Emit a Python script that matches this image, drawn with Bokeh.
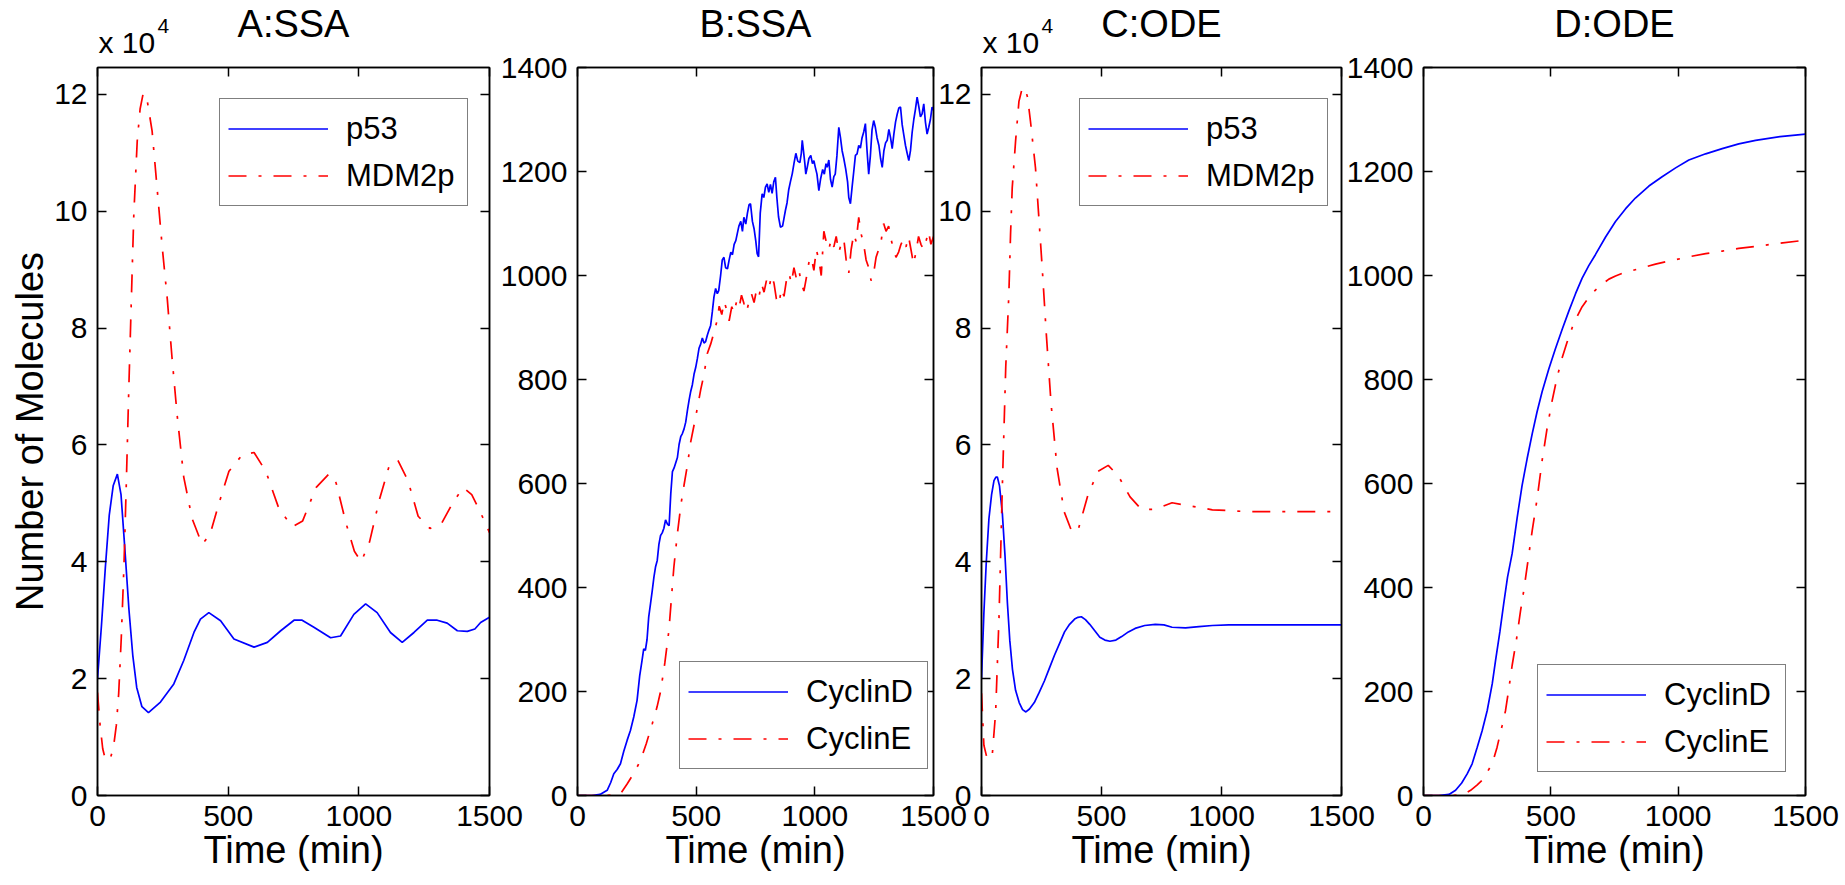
from bokeh.plotting import figure
from bokeh.layouts import row, column
from bokeh.models import (Range1d, LinearAxis, FixedTicker, Legend, LegendItem,
                          Label, CustomJSTickFormatter)
from bokeh.embed import file_html
from bokeh.resources import INLINE

FONT = "Liberation Sans"
BLUE = "#0000ff"
RED = "#ff0000"
DASHDOT = "18 12 3 12"
LW = 1.7

# ---------------- text ----------------
titles = ["A:SSA", "B:SSA", "C:ODE", "D:ODE"]
x_label = "Time (min)"
y_label = "Number of Molecules"
scale_base = "x 10"
scale_exp = "4"
names_p53 = ["p53", "MDM2p"]
names_cyc = ["CyclinD", "CyclinE"]

# ---------------- ticks ----------------
x_ticks = [0, 500, 1000, 1500]
y_ticks_p53 = [0, 2, 4, 6, 8, 10, 12]          # x 10^4 molecules
y_ticks_cyc = [0, 200, 400, 600, 800, 1000, 1200, 1400]
x_max = 1500
y_max_p53 = 12.46
y_max_cyc = 1400

# ---------------- A: SSA p53 / MDM2p (x 10^4) ----------------
a_t_p53 = [0, 15, 30, 45, 60, 76, 90, 105, 120, 135, 150, 170, 195, 241, 292, 330, 369, 394,
           426, 471, 522, 599, 650, 701, 752, 783, 828, 892, 930, 981, 1026, 1070, 1121, 1166,
           1211, 1262, 1300, 1338, 1377, 1415, 1444, 1466, 1500]
a_p53 = [2.0, 2.9, 3.9, 4.8, 5.3, 5.5, 5.15, 4.2, 3.2, 2.4, 1.85, 1.52, 1.42, 1.6, 1.91, 2.31,
         2.79, 3.02, 3.13, 2.99, 2.68, 2.54, 2.62, 2.82, 3.0, 3.0, 2.88, 2.70, 2.73, 3.1, 3.28,
         3.13, 2.79, 2.62, 2.79, 3.0, 3.0, 2.95, 2.82, 2.81, 2.85, 2.96, 3.05]
a_t_mdm = [0, 10, 20, 30, 40, 50, 61, 72, 81, 91, 101, 110, 120, 133, 139, 152, 163, 175, 190,
           209, 228, 248, 267, 285, 305, 330, 362, 400, 430, 464, 503, 554, 599, 644, 695, 746,
           785, 836, 887, 913, 951, 983, 1009, 1041, 1079, 1118, 1150, 1188, 1227, 1272, 1317,
           1362, 1400, 1432, 1464, 1500]
a_mdm = [1.76, 1.2, 0.8, 0.62, 0.6, 0.65, 0.82, 1.2, 1.74, 2.7, 3.9, 5.3, 7.0, 9.03, 9.95, 11.2,
         11.75, 12.02, 11.9, 11.37, 10.4, 9.37, 8.5, 7.5, 6.5, 5.45, 4.74, 4.3, 4.46, 4.99, 5.55,
         5.83, 5.87, 5.55, 4.9, 4.6, 4.70, 5.27, 5.51, 5.35, 4.66, 4.18, 4.0, 4.34, 5.07, 5.67,
         5.73, 5.39, 4.78, 4.57, 4.66, 5.03, 5.27, 5.15, 4.86, 4.50]

# ---------------- B: SSA CyclinD / CyclinE ----------------
b_t_d = [0, 60, 95, 125, 140, 153, 167, 181, 195, 209, 223, 237, 251, 262, 272, 279, 286, 293,
         300, 308, 315, 322, 329, 336, 343, 350, 357, 364, 371, 379, 386, 393, 400, 407, 414,
         421, 428, 435, 442, 449, 456, 463, 470, 477, 484, 491, 498, 505, 512, 519, 526, 533,
         540, 547, 554, 561, 568, 575, 582, 589, 595, 603, 610, 617, 624, 632, 639, 646, 653,
         660, 667, 673, 680, 688, 695, 701, 709, 716, 723, 729, 737, 744, 751, 757, 763, 770,
         778, 785, 792, 799, 806, 813, 820, 827, 834, 840, 847, 855, 864, 870, 876, 883, 890,
         897, 905, 912, 920, 928, 937, 943, 947, 952, 958, 962, 968, 975, 983, 990, 996, 1002,
         1009, 1017, 1024, 1033, 1040, 1047, 1052, 1059, 1066, 1073, 1080, 1086, 1093, 1101,
         1108, 1115, 1122, 1130, 1138, 1143, 1150, 1157, 1164, 1171, 1178, 1185, 1192, 1199,
         1206, 1213, 1220, 1227, 1234, 1241, 1248, 1255, 1262, 1270, 1277, 1284, 1291, 1298,
         1305, 1312, 1319, 1326, 1333, 1340, 1347, 1354, 1361, 1368, 1375, 1382, 1389, 1396,
         1403, 1410, 1417, 1424, 1431, 1438, 1445, 1452, 1459, 1466, 1473, 1480, 1487, 1494,
         1500]
b_cycd = [0, 0, 2, 10, 25, 42, 50, 61, 85, 106, 125, 151, 183, 230, 260, 282, 279, 300, 343,
          370, 394, 420, 440, 452, 483, 500, 505, 514, 530, 522, 519, 580, 623, 630, 640, 650,
          675, 690, 696, 705, 718, 740, 760, 777, 790, 810, 823, 840, 860, 868, 880, 870, 873,
          885, 895, 904, 930, 959, 975, 965, 971, 1000, 1030, 1035, 1015, 1013, 1030, 1045,
          1040, 1060, 1067, 1080, 1095, 1104, 1085, 1112, 1099, 1120, 1136, 1138, 1104, 1090,
          1067, 1042, 1036, 1120, 1157, 1150, 1170, 1176, 1160, 1175, 1158, 1180, 1189, 1150,
          1113, 1093, 1095, 1110, 1125, 1140, 1165, 1180, 1196, 1215, 1235, 1220, 1217, 1235,
          1260, 1240, 1215, 1195, 1208, 1225, 1231, 1215, 1221, 1208, 1195, 1163, 1185, 1204,
          1195, 1215, 1208, 1222, 1185, 1170, 1190, 1195, 1230, 1285, 1265, 1240, 1225, 1205,
          1180, 1150, 1138, 1170, 1200, 1231, 1234, 1250, 1245, 1265, 1276, 1292, 1240, 1195,
          1230, 1280, 1298, 1285, 1265, 1250, 1225, 1208, 1240, 1255, 1260, 1281, 1265, 1244,
          1272, 1295, 1310, 1322, 1324, 1290, 1270, 1250, 1235, 1221, 1240, 1275, 1300, 1320,
          1343, 1325, 1305, 1311, 1330, 1295, 1272, 1285, 1300, 1324, 1318]
b_t_e = [0, 100, 150, 181, 209, 240, 265, 290, 315, 335, 350, 368, 385, 406, 420, 436, 450,
         463, 477, 491, 505, 519, 533, 547, 561, 575, 589, 597, 608, 618, 628, 639, 650, 660,
         670, 681, 691, 702, 712, 723, 733, 744, 754, 765, 775, 786, 796, 807, 817, 828, 838,
         849, 859, 870, 880, 891, 901, 912, 922, 933, 943, 954, 964, 975, 985, 996, 1006, 1017,
         1027, 1038, 1048, 1059, 1069, 1080, 1090, 1101, 1111, 1122, 1132, 1143, 1153, 1164,
         1174, 1185, 1195, 1206, 1216, 1227, 1237, 1248, 1258, 1269, 1279, 1290, 1300, 1311,
         1321, 1332, 1342, 1353, 1363, 1374, 1384, 1395, 1405, 1416, 1426, 1437, 1447, 1458,
         1468, 1479, 1489, 1500]
b_cyce = [0, 0, 1, 3, 22, 45, 67, 100, 138, 170, 200, 255, 317, 439, 500, 560, 600, 635, 680,
          712, 745, 780, 810, 850, 868, 890, 915, 941, 925, 950, 935, 913, 940, 928, 950, 938,
          962, 945, 930, 950, 965, 948, 972, 960, 985, 968, 990, 975, 1000, 985, 955, 945, 975,
          960, 990, 1005, 985, 1015, 995, 1010, 985, 970, 995, 1025, 1035, 1010, 1050, 1030,
          1000, 1085, 1065, 1050, 1070, 1055, 1075, 1045, 1060, 1070, 1030, 1005, 1050, 1080,
          1065, 1112, 1080, 1060, 1030, 1015, 990, 1005, 1035, 1050, 1065, 1100, 1085, 1095,
          1070, 1050, 1035, 1045, 1060, 1070, 1055, 1075, 1050, 1022, 1045, 1075, 1060, 1050,
          1065, 1085, 1060, 1075]

# ---------------- C: ODE p53 / MDM2p (x 10^4) ----------------
c_t_p53 = [0, 10, 20, 31, 42, 52, 60, 66, 75, 87, 98, 108, 118, 129, 142, 157, 171, 185, 200,
           220, 240, 262, 283, 304, 325, 346, 367, 388, 402, 416, 433, 451, 472, 493, 514, 535,
           560, 584, 612, 640, 680, 724, 760, 794, 850, 906, 962, 1030, 1102, 1200, 1300, 1400,
           1500]
c_p53 = [2.0, 3.13, 4.0, 4.74, 5.15, 5.39, 5.45, 5.45, 5.3, 4.82, 4.1, 3.29, 2.65, 2.16, 1.8,
         1.59, 1.47, 1.43, 1.48, 1.59, 1.76, 1.96, 2.18, 2.4, 2.6, 2.80, 2.93, 3.02, 3.05, 3.06,
         3.01, 2.93, 2.82, 2.71, 2.66, 2.64, 2.66, 2.72, 2.80, 2.86, 2.91, 2.93, 2.92, 2.88, 2.87,
         2.89, 2.91, 2.92, 2.92, 2.92, 2.92, 2.92, 2.92]
c_t_mdm = [0, 10, 24, 45, 59, 73, 87, 101, 114, 121, 128, 142, 156, 168, 180, 192, 204, 225,
           239, 253, 270, 290, 315, 345, 378, 405, 444, 486, 528, 570, 619, 668, 724, 794, 864,
           962, 1102, 1250, 1400, 1500]
c_mdm = [1.75, 0.86, 0.62, 0.70, 1.43, 3.05, 5.31, 7.33, 8.58, 9.6, 10.4, 11.2, 11.88, 12.08,
         12.12, 11.95, 11.54, 10.74, 9.89, 9.03, 7.9, 6.7, 5.6, 4.85, 4.5, 4.58, 5.15, 5.55,
         5.65, 5.47, 5.11, 4.89, 4.9, 5.01, 4.96, 4.89, 4.86, 4.86, 4.86, 4.86]

# ---------------- D: ODE CyclinD / CyclinE ----------------
d_t_d = [0, 60, 100, 126, 150, 172, 191, 211, 230, 250, 270, 283, 300, 315, 330, 348, 368, 387,
         407, 427, 446, 466, 492, 518, 545, 571, 597, 623, 649, 675, 715, 754, 793, 832, 885,
         937, 990, 1042, 1108, 1173, 1238, 1304, 1400, 1500]
d_cycd = [0, 0, 2, 10, 24, 42, 61, 93, 124, 163, 215, 260, 315, 369, 420, 465, 535, 596, 648,
          696, 738, 777, 820, 859, 897, 932, 965, 995, 1019, 1040, 1074, 1104, 1128, 1149, 1172,
          1190, 1207, 1222, 1234, 1244, 1253, 1260, 1267, 1272]
d_t_e = [0, 100, 152, 185, 210, 230, 250, 270, 289, 309, 322, 335, 348, 365, 381, 394, 407,
         427, 446, 466, 485, 505, 525, 544, 564, 584, 604, 623, 649, 675, 701, 728, 754, 780,
         845, 911, 976, 1042, 1108, 1173, 1238, 1304, 1400, 1500]
d_cyce = [0, 0, 1, 10, 20, 29, 45, 61, 93, 135, 163, 205, 250, 300, 355, 395, 440, 510, 570,
          645, 705, 759, 805, 841, 872, 900, 922, 940, 958, 972, 983, 993, 999, 1004, 1013, 1022,
          1029, 1036, 1042, 1047, 1052, 1056, 1062, 1068]

# ---------------- layout constants (pixels) ----------------
HEAD = 63          # header strip holding the panel titles
HEAD_OVERLAP = 16  # panel canvases start this far inside the header strip
TOP, FH, BOT = 20, 728, 89
H = TOP + FH + BOT
OVERLAP = 34       # neighbouring canvases overlap so tick labels are not cut
# (frame width, left border, right border) of each panel
GEOM = [(392, 97, 36), (356, 86, 36), (360, 46, 36), (382, 80, 36)]


def style_axis(ax):
    ax.major_tick_in = 9
    ax.major_tick_out = 0
    ax.minor_tick_line_color = None
    ax.axis_line_color = "black"
    ax.axis_line_width = 1.5
    ax.major_tick_line_color = "black"
    ax.major_tick_line_width = 1.5
    ax.major_label_text_font = FONT
    ax.major_label_text_font_size = "30px"
    ax.major_label_text_color = "black"
    ax.axis_label_text_font = FONT
    ax.axis_label_text_font_style = "normal"
    ax.axis_label_text_color = "black"


def make_panel(geom, ymax, yticks, tb, vb, tr, vr, names, leg_loc, ylab=None):
    fw, bl, br = geom
    p = figure(width=bl + fw + br, height=H,
               x_range=Range1d(0, x_max), y_range=Range1d(0, ymax),
               output_backend="svg", toolbar_location=None,
               min_border_left=bl, min_border_right=br,
               min_border_top=TOP, min_border_bottom=BOT,
               outline_line_color="black", outline_line_width=1.5,
               background_fill_color="white", border_fill_color=None)
    p.grid.visible = False

    xa = p.xaxis[0]
    xa.ticker = FixedTicker(ticks=x_ticks)
    style_axis(xa)
    xa.major_label_standoff = 10
    xa.axis_label = x_label
    xa.axis_label_text_font_size = "38px"
    xa.axis_label_standoff = 0

    ya = p.yaxis[0]
    ya.ticker = FixedTicker(ticks=yticks)
    style_axis(ya)
    ya.major_label_standoff = 10
    if ylab:
        ya.axis_label = ylab
        ya.axis_label_text_font_size = "38px"
        ya.axis_label_standoff = 0

    for side, ticks in (("above", x_ticks), ("right", yticks)):
        ax = LinearAxis(ticker=FixedTicker(ticks=ticks),
                        formatter=CustomJSTickFormatter(code="return ''"))
        style_axis(ax)
        ax.major_label_text_font_size = "0px"
        ax.major_label_standoff = 0
        p.add_layout(ax, side)

    rb = p.line(tb, vb, line_color=BLUE, line_width=LW)
    rr = p.line(tr, vr, line_color=RED, line_width=LW, line_dash=DASHDOT)

    leg = Legend(items=[LegendItem(label=names[0], renderers=[rb]),
                        LegendItem(label=names[1], renderers=[rr])],
                 location=leg_loc, orientation="vertical",
                 label_text_font=FONT, label_text_font_size="31px",
                 label_text_color="black",
                 glyph_width=100, glyph_height=43, label_standoff=18,
                 label_width=113, label_height=43,
                 padding=8, spacing=4, margin=0,
                 border_line_color="black", border_line_width=1.5,
                 background_fill_color="white", background_fill_alpha=1.0)
    p.add_layout(leg)
    return p


pA = make_panel(GEOM[0], y_max_p53, y_ticks_p53, a_t_p53, a_p53, a_t_mdm, a_mdm,
                names_p53, (122, 589), ylab=y_label)
pB = make_panel(GEOM[1], y_max_cyc, y_ticks_cyc, b_t_d, b_cycd, b_t_e, b_cyce,
                names_cyc, (102, 26))
pC = make_panel(GEOM[2], y_max_p53, y_ticks_p53, c_t_p53, c_p53, c_t_mdm, c_mdm,
                names_p53, (98, 589))
pD = make_panel(GEOM[3], y_max_cyc, y_ticks_cyc, d_t_d, d_cycd, d_t_e, d_cyce,
                names_cyc, (114, 23))
panels = [pA, pB, pC, pD]
for p in panels[1:]:
    p.styles = {"margin-left": "-%dpx" % OVERLAP}

# frame positions (pixels) derived from the geometry, used to place the titles
frame_left = []
x0 = 0
for i, (fw, bl, br) in enumerate(GEOM):
    if i > 0:
        x0 -= OVERLAP
    frame_left.append(x0 + bl)
    x0 += bl + fw + br
TOTAL_W = x0

head = figure(width=TOTAL_W, height=HEAD, x_range=Range1d(0, TOTAL_W),
              y_range=Range1d(HEAD, 0), output_backend="svg", toolbar_location=None,
              x_axis_location=None, y_axis_location=None,
              min_border_left=0, min_border_right=0, min_border_top=0, min_border_bottom=0,
              outline_line_color=None, background_fill_color=None, border_fill_color=None)
head.grid.visible = False


def head_label(x, y, text, size, align):
    head.add_layout(Label(x=x, y=y, text=text, text_align=align, text_baseline="middle",
                          text_font=FONT, text_font_size="%dpx" % size, text_color="black"))


for i, (fw, bl, br) in enumerate(GEOM):
    head_label(frame_left[i] + fw / 2, 23, titles[i], 38, "center")
for i in (0, 2):
    head_label(frame_left[i] + 1, 41.5, scale_base, 30, "left")
    head_label(frame_left[i] + 60, 25, scale_exp, 21, "left")

panel_row = row(*panels, spacing=0, styles={"margin-top": "-%dpx" % HEAD_OVERLAP})
layout = column(head, panel_row, spacing=0)

with open("out.html", "w") as f:
    f.write(file_html(layout, INLINE))
